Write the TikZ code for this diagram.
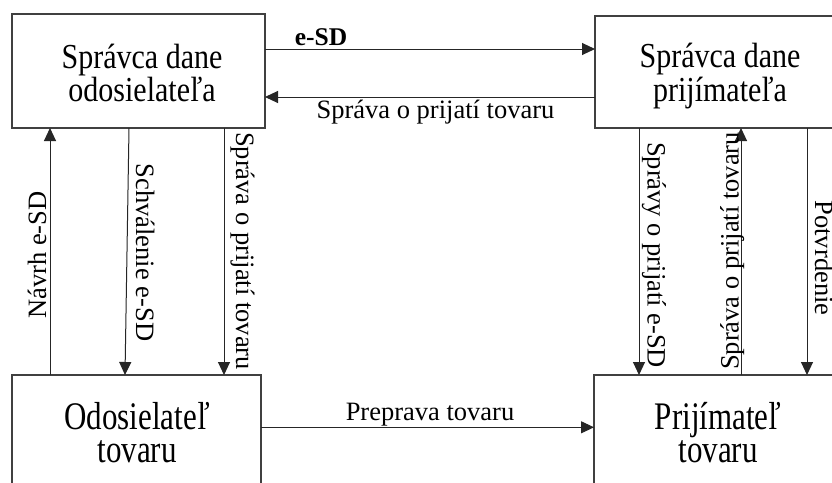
\documentclass[tikz,border=0pt]{standalone}
\usepackage{fontspec}
\usepackage{graphicx}
\setmainfont{Liberation Serif}
\usetikzlibrary{arrows.meta}
\begin{document}
\begin{tikzpicture}[x=1pt,y=-1pt,
  box/.style={draw=black!75, line width=1.4pt, inner sep=0pt, outer sep=0pt, rectangle},
  arr/.style={draw=black!85, line width=1pt, -{Triangle[length=13pt,width=12pt]}},
  lbl/.style={font=\fontsize{26.5}{30}\selectfont, inner sep=0pt, anchor=base},
  toptxt/.style={font=\fontsize{30}{24.8}\selectfont, inner sep=0pt},
  bottxt/.style={font=\fontsize{31}{26.2}\selectfont, inner sep=0pt}]
\useasboundingbox (0,0) rectangle (832,482);
\clip (0,0) rectangle (832,482);
\fill[white] (0,0) rectangle (832,482);

% boxes
\node[box, minimum width=253pt, minimum height=114pt] (A) at (138.5,71) {};
\node[box, minimum width=253pt, minimum height=112pt] (B) at (721.5,72) {};
\node[box, minimum width=249pt, minimum height=125pt] (C) at (136.5,437.5) {};
\node[box, minimum width=248pt, minimum height=125pt] (D) at (718,437.5) {};

% box texts
\node[toptxt] (At) at (142,76.7) {\scalebox{1}[1.17]{\begin{tabular}{@{}c@{}}Správca dane\\odosielateľa\end{tabular}}};
\node[toptxt] (Bt) at (720,76.7) {\scalebox{1}[1.17]{\begin{tabular}{@{}c@{}}Správca dane\\prijímateľa\end{tabular}}};
\node[bottxt] (Ct) at (137,437.6) {\scalebox{1}[1.26]{\begin{tabular}{@{}c@{}}Odosielateľ\\tovaru\end{tabular}}};
\node[bottxt] (Dt) at (718,437.6) {\scalebox{1}[1.26]{\begin{tabular}{@{}c@{}}Prijímateľ\\tovaru\end{tabular}}};

% helper coordinates
\coordinate (y1) at (0,49);
\coordinate (y2) at (0,97);
\coordinate (y3) at (0,427.3);
\coordinate (xN) at (50,0);
\coordinate (xS) at (224,0);
\coordinate (xR1) at (639,0);
\coordinate (xR2) at (741,0);
\coordinate (xR3) at (807,0);

% horizontal connectors
\draw[arr] (A.east |- y1) -- (B.west |- y1);
\draw[arr] (B.west |- y2) -- (A.east |- y2);
\draw[arr] (C.east |- y3) -- (D.west |- y3);

% vertical connectors left
\draw[arr] (C.north -| xN) -- (A.south -| xN);
\draw[arr] ([xshift=-9.5pt]A.south) -- ([xshift=-11.5pt]C.north);
\draw[arr] (A.south -| xS) -- (C.north -| xS);

% vertical connectors right
\draw[arr] (B.south -| xR1) -- (D.north -| xR1);
\draw[arr] (D.north -| xR2) -- (B.south -| xR2);
\draw[arr] (B.south -| xR3) -- (D.north -| xR3);

% labels
\node[lbl, font=\fontsize{25.5}{30}\selectfont\bfseries] (l1) at (321,45) {e-SD};
\node[lbl] (l2) at (435.5,118) {Správa o prijatí tovaru};
\node[lbl] (l3) at (430,420) {Preprava tovaru};
\node[lbl, rotate=90] (l4) at (46,255) {Návrh e-SD};
\node[lbl, rotate=-90] (l5) at (136,252.5) {Schválenie e-SD};
\node[lbl, rotate=-90] (l6) at (236,251) {Správa o prijatí tovaru};
\node[lbl, rotate=-90] (l7) at (647.5,255) {Správy o prijatí e-SD};
\node[lbl, rotate=90] (l8) at (738.5,251) {Správa o prijatí tovaru};
\node[lbl, rotate=-90] (l9) at (815,258) {Potvrdenie};
\end{tikzpicture}
\end{document}
